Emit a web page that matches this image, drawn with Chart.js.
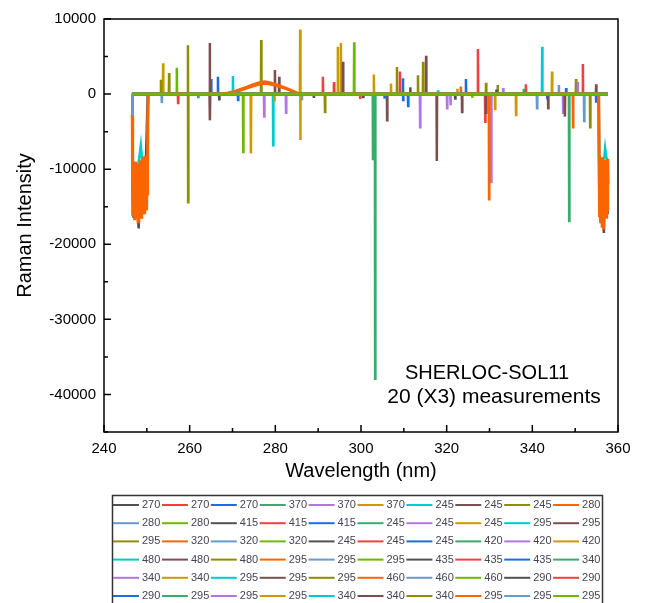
<!DOCTYPE html>
<html>
<head>
<meta charset="utf-8">
<script src="https://cdn.jsdelivr.net/npm/chart.js@4.4.1/dist/chart.umd.min.js"></script>
<style>
  html, body { margin: 0; padding: 0; background: #fff; }
  #wrap { width: 646px; height: 603px; position: relative; }
</style>
</head>
<body>
<div id="wrap"><canvas id="ramanChart"></canvas></div>
<script>
// legend labels, 60 spectra (10 per legend row)
const legendLabels = [
  '270','270','270','370','370','370','245','245','245','280',
  '280','280','415','415','415','245','245','245','295','295',
  '295','320','320','320','245','245','245','420','420','420',
  '480','480','480','295','295','295','435','435','435','340',
  '340','340','295','295','295','460','460','460','290','290',
  '290','295','295','295','340','340','340','295','295','295'
];

// Origin style colour cycle
const palette = ['#515151','#F14040','#1A6FDF','#37AD6B','#B177DE','#CC9900',
                 '#00CBCC','#7D4E4E','#8E8E00','#FB6501','#6699CC','#6FB802'];

const wlStart = 246.6;
const wlEnd = 357.6;

// spikes per spectrum: [wavelength, intensity(, second intensity)]
const spikes = [
  [[266.9,-700],[322.0,-600]],
  [[257.3,-1200],[327.3,6000]],
  [[265.0,2000],[311.0,-1600]],
  [[303.3,-37900]],
  [[277.4,-3000],[330.4,-11700]],
  [[253.8,4100],[294.6,6300]],
  [[270.1,2400]],
  [[264.7,6800,-3500],[315.2,5100]],
  [[259.6,6500,-14400],[308.4,3600]],
  [[329.9,-14000]],
  [[253.5,-1200],[286.2,-800]],
  [[298.4,6900]],
  [[311.5,900]],
  [[291.1,2300],[329.0,-3700]],
  [[266.6,2300],[309.8,2100,-800]],
  [[302.8,-8800]],
  [[282.5,-2500],[333.2,800]],
  [[274.3,-7900],[295.3,6800]],
  [[279.5,-6800]],
  [[279.9,3200],[317.7,-8900]],
  [[253.3,1900],[276.7,7200],[314.5,4300]],
  [[349.5,-4400]],
  [[341.1,-1900]],
  [[257.0,3500]],
  [[300.5,-400]],
  [[293.7,1600],[351.8,4000]],
  [[271.3,-800],[324.5,2000]],
  [[348.6,-16900]],
  [[313.8,-4400],[347.2,-2500]],
  [[285.8,8600,-6100],[303.0,2600]],
  [[342.3,6300]],
  [[280.9,2300],[306.1,-3500]],
  [[255.2,2800],[291.6,-2400],[313.3,2500]],
  [[323.3,1000]],
  [[346.2,1200]],
  [[272.5,-7700]],
  [[289.0,-500]],
  [[299.8,-500],[309.1,3000]],
  [[343.5,-700],[354.9,-1000]],
  [[262.0,-400]],
  [[320.1,-1900],[320.9,-1500]],
  [[279.8,-1000],[307.0,1400],[331.3,-2000]],
  [[318.0,500]],
  [[295.8,4300],[323.6,-2400]],
  [[329.2,1500],[331.9,1200],[350.2,2000]],
  [],
  [[352.1,-3600]],
  [[326.0,-500]],
  [[331.6,600]],
  [[338.5,1300]],
  [[305.5,-600],[347.9,800]],
  [[338.0,700]],
  [[350.6,1600]],
  [[322.5,700],[336.2,-2800],[344.6,3000]],
  [],
  [[329.2,-2500],[343.7,-1900],[347.6,-3000],[354.9,1300]],
  [[353.5,-4400]],
  [],
  [],
  []
];

// detector edge artefacts and broad band
const orangeLeftEdge = [
  [246.6,-2800],[246.65,-9500],[246.75,-16200],[246.85,-10400],[246.95,-15800],[247.05,-9200],
  [247.15,-16800],[247.25,-10800],[247.35,-15200],[247.45,-9000],[247.55,-16400],[247.65,-10100],
  [247.75,-15600],[247.85,-9600],[247.95,-17000],[248.05,-10500],[248.15,-15000],[248.25,-9300],
  [248.35,-16000],[248.45,-8800],[248.55,-15400],[248.65,-9900],[248.75,-16600],[248.85,-9100],
  [248.95,-15100],[249.05,-8400],[249.15,-15800],[249.25,-9000],[249.35,-15300],[249.45,-8200],
  [249.55,-16000],[249.65,-9400],[249.75,-14800],[249.85,-8600],[249.95,-15500],[250.05,-9800],
  [250.15,-13500],[250.25,-4000],[250.35,0]
];
const orangeRightEdge = [
  [355.5,0],[355.6,-8200],[355.7,-16400],[355.8,-9000],[355.9,-17200],[356.0,-8600],[356.1,-16000],
  [356.2,-9300],[356.3,-17600],[356.4,-8400],[356.5,-15800],[356.6,-9000],[356.7,-18000],[356.8,-8700],
  [356.9,-16200],[357.0,-9400],[357.1,-15600],[357.2,-8800],[357.3,-16600],[357.4,-9200],[357.5,-15400],
  [357.6,-8600],[357.7,-12000]
];
const orangeBand = [
  [267.5,0],[269,150],[270.5,350],[272,650],[273.5,950],[275,1300],[276.5,1550],[277.5,1650],
  [278.5,1550],[280,1300],[281.5,1000],[283,650],[284.5,300],[285.8,0]
];
const orangeBand2 = [
  [268,0],[271,300],[274,900],[276.5,1350],[278,1400],[280,1150],[282.5,700],[285,150],[286,0]
];
const greyLeftEdge = [
  [246.6,0],[246.65,-12000],[246.9,-16500],[247.2,-11000],[248.1,-17900],[248.4,-11500],
  [249.4,-15900],[249.7,-11000],[250.2,0]
];
const greyRightEdge = [
  [355.5,0],[355.6,-12000],[355.9,-16900],[356.2,-11500],[356.7,-18500],[357.0,-12000],[357.6,-16000]
];
const cyanLeftEdge = [
  [246.6,0],[246.65,-9000],[248.0,-9500],[248.6,-6800],[249.0,-9500],[250.2,-9000],[250.3,0]
];
const cyanRightEdge = [
  [355.5,0],[355.6,-9000],[356.8,-8500],[357.0,-7200],[357.3,-8500],[357.6,-9000]
];
const blueStart = [[246.6,-2800],[246.7,0]];

const edgeSets = {
  45: { band: orangeBand2 },
  48: { left: greyLeftEdge, right: greyRightEdge },
  54: { left: cyanLeftEdge, right: cyanRightEdge },
  57: { left: orangeLeftEdge, right: orangeRightEdge, band: orangeBand },
  58: { left: blueStart }
};

function buildPoints(i) {
  const extra = edgeSets[i] || {};
  const pts = [];
  (extra.left || [[wlStart, 0]]).forEach(([x, y]) => pts.push({ x, y }));
  spikes[i].forEach(([w, ...vals]) => {
    pts.push({ x: w - 0.06, y: 0 });
    vals.forEach((v, k) => pts.push({ x: w + k * 0.04, y: v }));
    pts.push({ x: w + vals.length * 0.04 + 0.02, y: 0 });
  });
  (extra.band || []).forEach(([x, y]) => pts.push({ x, y }));
  (extra.right || [[wlEnd, 0]]).forEach(([x, y]) => pts.push({ x, y }));
  return pts.sort((a, b) => a.x - b.x);
}

const datasets = legendLabels.map((label, i) => ({
  label: label,
  data: buildPoints(i),
  borderColor: palette[i % 12],
  backgroundColor: palette[i % 12],
  borderWidth: i === 57 ? 3 : 2.5,
  pointRadius: 0,
  tension: 0,
  order: 59 - i // later spectra drawn on top, like Origin
}));

// frame + inward ticks
const frameTicks = {
  id: 'frameTicks',
  afterDatasetsDraw(chart) {
    const { ctx, chartArea: a, scales: { x, y } } = chart;
    ctx.save();
    ctx.strokeStyle = '#000';
    ctx.lineWidth = 1.5;
    ctx.strokeRect(a.left, a.top, a.right - a.left, a.bottom - a.top);
    ctx.beginPath();
    x.ticks.forEach(t => {
      const px = x.getPixelForValue(t.value);
      const len = Math.round(t.value) % 20 === 0 ? 7 : 4;
      ctx.moveTo(px, a.bottom);
      ctx.lineTo(px, a.bottom - len);
    });
    y.ticks.forEach(t => {
      const py = y.getPixelForValue(t.value);
      const len = Math.round(t.value) % 10000 === 0 ? 7 : 4;
      ctx.moveTo(a.left, py);
      ctx.lineTo(a.left + len, py);
    });
    ctx.stroke();
    ctx.restore();
  }
};

// note text and boxed legend below the plot
const notesLegend = {
  id: 'notesLegend',
  afterDraw(chart) {
    const ctx = chart.ctx;
    ctx.save();
    ctx.fillStyle = '#000';
    ctx.textAlign = 'center';
    ctx.textBaseline = 'middle';
    ctx.font = '20px "Liberation Sans", Arial, sans-serif';
    ctx.fillText('SHERLOC-SOL11', 487, 373);
    ctx.font = '21px "Liberation Sans", Arial, sans-serif';
    ctx.fillText('20 (X3) measurements', 494, 397);

    ctx.strokeStyle = '#333';
    ctx.lineWidth = 1.5;
    ctx.strokeRect(112.5, 495.5, 490, 130);
    ctx.font = '11px "Liberation Sans", Arial, sans-serif';
    ctx.textAlign = 'left';
    chart.data.datasets.forEach((ds, i) => {
      const row = Math.floor(i / 10), col = i % 10;
      const x0 = 113 + col * 48.9, yy = 505 + row * 18.2;
      ctx.strokeStyle = ds.borderColor;
      ctx.lineWidth = 2;
      ctx.beginPath();
      ctx.moveTo(x0, yy);
      ctx.lineTo(x0 + 26, yy);
      ctx.stroke();
      ctx.fillStyle = '#454555';
      ctx.fillText(ds.label, x0 + 29, yy);
    });
    ctx.restore();
  }
};

Chart.defaults.font.family = '"Liberation Sans", Arial, sans-serif';
Chart.defaults.color = '#000';

new Chart(document.getElementById('ramanChart'), {
  type: 'line',
  data: { datasets },
  options: {
    responsive: true,
    maintainAspectRatio: false,
    animation: false,
    parsing: false,
    layout: { padding: { left: 0, right: 28, top: 19, bottom: 120 } },
    plugins: { legend: { display: false }, tooltip: { enabled: false } },
    scales: {
      x: {
        type: 'linear',
        min: 240,
        max: 360,
        afterFit: s => { s.height = 51; },
        grid: { display: false, drawTicks: false },
        border: { display: false },
        ticks: {
          stepSize: 10,
          autoSkip: false,
          maxRotation: 0,
          padding: 8,
          font: { size: 15 },
          callback: v => (Math.round(v) % 20 === 0 ? String(v) : '')
        },
        title: { display: true, text: 'Wavelength (nm)', font: { size: 20 }, padding: 0 }
      },
      y: {
        min: -45000,
        max: 10000,
        afterFit: s => { s.width = 104; },
        grid: { display: false, drawTicks: false },
        border: { display: false },
        ticks: {
          stepSize: 5000,
          autoSkip: false,
          padding: 8,
          font: { size: 15 },
          callback: v => (Math.round(v) % 10000 === 0 ? String(v) : '')
        },
        title: { display: true, text: 'Raman Intensity', font: { size: 20 }, padding: { top: 13, bottom: 0 } }
      }
    }
  },
  plugins: [frameTicks, notesLegend]
});
</script>
</body>
</html>
